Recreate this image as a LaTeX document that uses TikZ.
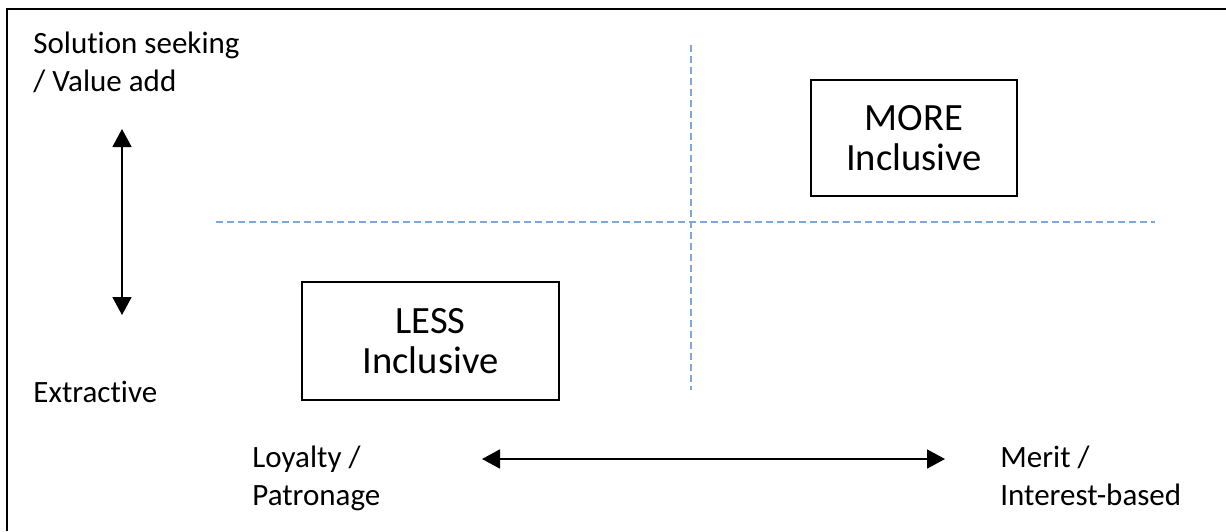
\documentclass[tikz,border=0pt]{standalone}
\usepackage{fontspec}
\setmainfont{Carlito}[Ligatures=NoCommon]
\usetikzlibrary{arrows.meta}
\definecolor{dividerblue}{RGB}{125,168,215}

\begin{document}
\begin{tikzpicture}[x=0.5pt,y=-0.5pt,
	quadbox/.style={draw, line width=1pt, align=center, inner sep=0pt,
		font=\fontsize{19.3}{20}\selectfont},
	axislabel/.style={anchor=north west, inner sep=0pt, align=left,
		font=\fontsize{15.5}{19}\selectfont},
	divider/.style={draw=dividerblue, line width=0.6pt, dash pattern=on 3.5pt off 2pt},
	axisarrow/.style={{Triangle[width=9.5pt,length=9pt]}-{Triangle[width=9.5pt,length=9pt]}, line width=0.9pt}]
	    \useasboundingbox (0,0) rectangle (1226,531);
	    \draw[line width=1pt] (7,531) -- (7,9) -- (1226,9);
	    % quadrant dividers
	    \coordinate (hleft) at (216,222);
	    \coordinate (hright) at (1155,222);
	    \coordinate (vtop) at (691,45);
	    \coordinate (vbot) at (691,390);
	    \draw[divider] (hleft) -- (hright);
	    \draw[divider] (vtop) -- (vbot);
	    % quadrant boxes
	    \node[quadbox, minimum width=128.5pt, minimum height=59pt] (less) at (430.5,341) {LESS\\Inclusive};
	    \node[quadbox, minimum width=103pt, minimum height=58pt] (more) at (914,138) {MORE\\Inclusive};
	    % vertical axis
	    \node[axislabel] (valueadd) at (33,32) {Solution seeking\\/ Value add};
	    \node[axislabel] (extractive) at (33,381) {Extractive};
	    \coordinate (vup) at (122,129);
	    \coordinate (vdown) at (122,315);
	    \draw[axisarrow] (vup) -- (vdown);
	    % horizontal axis
	    \node[axislabel] (loyalty) at (252,446) {Loyalty /\\Patronage};
	    \node[axislabel] (merit) at (1000,446) {Merit /\\Interest-based};
	    \coordinate (hl) at (482,459);
	    \coordinate (hr) at (945,459);
	    \draw[axisarrow] (hl) -- (hr);
	\end{tikzpicture}
\end{document}
